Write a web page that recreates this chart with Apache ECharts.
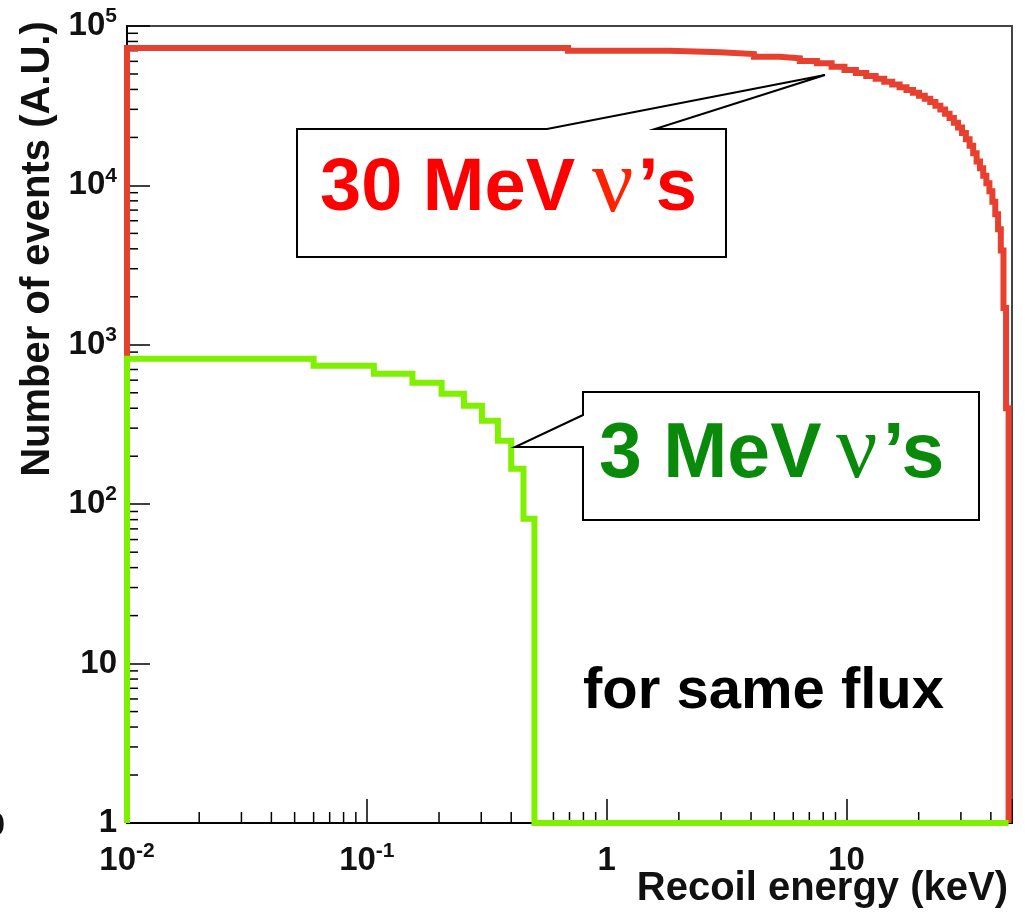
<!DOCTYPE html>
<html>
<head>
<meta charset="utf-8">
<script src="https://cdn.jsdelivr.net/npm/echarts@6/dist/echarts.min.js"></script>
<style>
  html, body { margin: 0; padding: 0; background: #ffffff; }
  #chart { width: 1025px; height: 916px; }
</style>
</head>
<body>
<div id="chart"></div>
<script>
// Nuclear recoil spectra, events per bin (arbitrary units), for two neutrino energies.

// 30 MeV neutrinos: bin edges (keV) and counts
const redEdges = [0.01, 0.69, 1.83, 2.97, 4.11, 5.25, 6.39, 7.53, 8.67, 9.81, 10.95,
  12.09, 13.23, 14.37, 15.51, 16.65, 17.79, 18.93, 20.07, 21.21, 22.35,
  23.49, 24.63, 25.77, 26.91, 28.05, 29.19, 30.33, 31.47, 32.61, 33.75,
  34.89, 36.03, 37.17, 38.31, 39.45, 40.59, 41.73, 42.87, 44.01, 45.15,
  46.29, 47.43];
const redCounts = [72800, 70000, 68400, 66700, 64200, 62700, 60300, 58400, 55600, 53000,
  50800, 48600, 46700, 44700, 42900, 41300, 39700, 38100, 36500, 34900,
  33300, 31600, 29900, 28200, 26500, 24700, 23100, 21300, 19500, 17700,
  15900, 14100, 12800, 11500, 10300, 9200, 7900, 6600, 5300, 3900,
  1700, 400];

// 3 MeV neutrinos: bin edges (keV) and counts
const greenEdges = [0.01, 0.06, 0.107, 0.155, 0.205, 0.254, 0.302, 0.352, 0.4, 0.45, 0.5];
const greenCounts = [817, 738, 658, 578, 493, 415, 334, 250, 167, 81];

// histogram range end (keV)
const rangeEnd = 47.43;

// axis ranges and tick values
const xMin = 0.01, xMax = 49;
const yMin = 1, yMax = 100000;
const xDecades = [0.01, 0.1, 1, 10];
const yDecades = [1, 10, 100, 1000, 10000];
const minorSteps = [2, 3, 4, 5, 6, 7, 8, 9];

const FONT = '"Liberation Sans", Arial, Helvetica, sans-serif';
const SERIF = '"Liberation Serif", "Times New Roman", serif';
const RED = '#e8402f';
const LIME = '#7ff000';

function histPath(edges, counts, floor, tailEnd) {
  const pts = [[edges[0], floor]];
  counts.forEach(function (c, i) {
    pts.push([edges[i], c], [edges[i + 1], c]);
  });
  pts.push([edges[edges.length - 1], floor]);
  if (tailEnd) pts.push([tailEnd, floor]);
  return pts;
}

function minorValues(decades, limit) {
  const out = [];
  decades.forEach(function (d) {
    minorSteps.forEach(function (m) {
      const v = +(d * m).toPrecision(6);
      if (v < limit) out.push(v);
    });
  });
  return out;
}

function powerLabel(v) {
  const e = Math.log10(v);
  const r = Math.round(e);
  if (Math.abs(e - r) > 1e-6) return '';
  if (r === 0) return '{b|1}';
  if (r === 1) return '{b|10}';
  return '{b|10}{s|' + r + '}';
}

const labelRich = {
  b: { fontSize: 33, fontWeight: 'bold', fontFamily: FONT, color: '#111', lineHeight: 40 },
  s: { fontSize: 21, fontWeight: 'bold', fontFamily: FONT, color: '#111', lineHeight: 22, verticalAlign: 'top' }
};

const chart = echarts.init(document.getElementById('chart'), null, { renderer: 'canvas' });

const option = {
  animation: false,
  backgroundColor: '#ffffff',
  grid: {
    left: 127, right: 13, top: 26, bottom: 93,
    show: true, borderColor: '#444', borderWidth: 2, backgroundColor: 'transparent'
  },
  xAxis: {
    type: 'log', logBase: 10, min: xMin, max: xMax,
    axisLine: { show: true, onZero: false, lineStyle: { color: '#000', width: 2 } },
    axisTick: { show: true, inside: true, length: 24, lineStyle: { color: '#000', width: 1.5 } },
    axisLabel: { margin: 18, formatter: powerLabel, rich: labelRich },
    splitLine: { show: false }
  },
  yAxis: {
    type: 'log', logBase: 10, min: yMin, max: yMax,
    axisLine: { show: true, onZero: false, lineStyle: { color: '#000', width: 2 } },
    axisTick: { show: true, inside: true, length: 23, lineStyle: { color: '#000', width: 1.5 } },
    axisLabel: { margin: 10, formatter: powerLabel, rich: labelRich },
    splitLine: { show: false }
  },
  series: [
    {
      // minor ticks along the left axis
      type: 'custom', silent: true, clip: false, z: 1,
      data: minorValues(yDecades, yMax).map(function (v) { return [xMin, v]; }),
      renderItem: function (params, api) {
        const p = api.coord([api.value(0), api.value(1)]);
        return { type: 'line', shape: { x1: p[0], y1: p[1], x2: p[0] + 11, y2: p[1] },
          style: { stroke: '#000', lineWidth: 1.5 } };
      }
    },
    {
      // minor ticks along the bottom axis
      type: 'custom', silent: true, clip: false, z: 1,
      data: minorValues(xDecades, xMax).map(function (v) { return [v, yMin]; }),
      renderItem: function (params, api) {
        const p = api.coord([api.value(0), api.value(1)]);
        return { type: 'line', shape: { x1: p[0], y1: p[1], x2: p[0], y2: p[1] - 11 },
          style: { stroke: '#000', lineWidth: 1.5 } };
      }
    },
    {
      name: '30 MeV', type: 'line', clip: false, z: 3,
      showSymbol: false, symbol: 'none',
      data: histPath(redEdges, redCounts, yMin),
      lineStyle: { color: RED, width: 6, cap: 'butt', join: 'miter' }
    },
    {
      name: '3 MeV', type: 'line', clip: false, z: 4,
      showSymbol: false, symbol: 'none',
      data: histPath(greenEdges, greenCounts, yMin, rangeEnd),
      lineStyle: { color: LIME, width: 6, cap: 'butt', join: 'miter' }
    }
  ],
  graphic: [
    {
      type: 'text', x: 38, y: 249, rotation: Math.PI / 2,
      style: { text: 'Number of events (A.U.)', font: 'bold 40px ' + FONT, fill: '#111',
        align: 'center', verticalAlign: 'middle' }
    },
    {
      type: 'text', x: 1008, y: 889,
      style: { text: 'Recoil energy (keV)', font: 'bold 40px ' + FONT, fill: '#111',
        align: 'right', verticalAlign: 'middle' }
    },
    {
      type: 'text', x: 5, y: 826,
      style: { text: '0', font: 'bold 32px ' + FONT, fill: '#111', align: 'right', verticalAlign: 'middle' }
    },
    {
      // callout for the 30 MeV curve
      type: 'polygon', z: 10,
      shape: { points: [[547, 129], [297, 129], [297, 257], [726, 257], [726, 129], [655, 129], [825, 75]] },
      style: { fill: '#ffffff', stroke: '#000', lineWidth: 2 }
    },
    {
      type: 'text', z: 11, x: 320, y: 190,
      style: { text: '30 MeV', font: 'bold 74px ' + FONT, fill: '#ff0000', align: 'left', verticalAlign: 'middle' }
    },
    {
      type: 'text', z: 11, x: 592, y: 187,
      style: { text: 'ν', font: '92px ' + SERIF, fill: '#ff2200', align: 'left', verticalAlign: 'middle' }
    },
    {
      type: 'text', z: 11, x: 638, y: 190,
      style: { text: '’s', font: 'bold 74px ' + FONT, fill: '#ff0000', align: 'left', verticalAlign: 'middle' }
    },
    {
      // callout for the 3 MeV curve
      type: 'polygon', z: 10,
      shape: { points: [[583, 415], [583, 392], [979, 392], [979, 520], [583, 520], [583, 447], [515, 447]] },
      style: { fill: '#ffffff', stroke: '#000', lineWidth: 2 }
    },
    {
      type: 'text', z: 11, x: 599, y: 456,
      style: { text: '3 MeV', font: 'bold 77px ' + FONT, fill: '#0a8a0a', align: 'left', verticalAlign: 'middle' }
    },
    {
      type: 'text', z: 11, x: 836, y: 453,
      style: { text: 'ν', font: '92px ' + SERIF, fill: '#0a8a0a', align: 'left', verticalAlign: 'middle' }
    },
    {
      type: 'text', z: 11, x: 883, y: 456,
      style: { text: '’s', font: 'bold 77px ' + FONT, fill: '#0a8a0a', align: 'left', verticalAlign: 'middle' }
    },
    {
      type: 'text', z: 11, x: 583, y: 692,
      style: { text: 'for same flux', font: 'bold 58px ' + FONT, fill: '#000', align: 'left', verticalAlign: 'middle' }
    }
  ]
};

chart.setOption(option);
</script>
</body>
</html>
